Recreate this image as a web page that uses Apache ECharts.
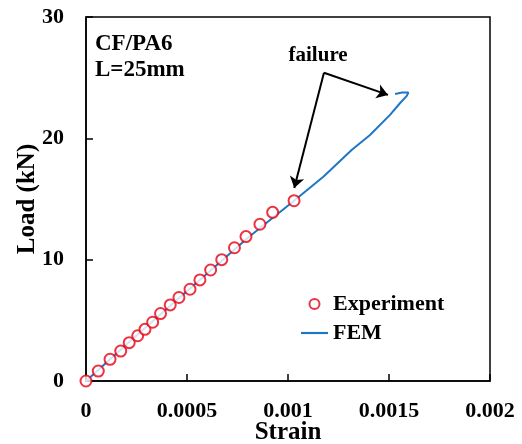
<!DOCTYPE html>
<html>
<head>
<meta charset="utf-8">
<script src="https://cdn.jsdelivr.net/npm/echarts@6/dist/echarts.min.js"></script>
<style>
  html, body { margin: 0; padding: 0; background: #fff; }
  #chart { width: 522px; height: 444px; }
</style>
</head>
<body>
<div id="chart"></div>
<script>
// Measured load–strain points (experiment)
const expStrain = [0, 0.0000609, 0.000119, 0.000172, 0.000214, 0.000256, 0.000292, 0.000330, 0.000369, 0.000417,
                   0.000460, 0.000515, 0.000564, 0.000617, 0.000672, 0.000735, 0.000792, 0.000861, 0.000924, 0.00103];
const expLoad   = [0, 0.82, 1.79, 2.47, 3.16, 3.73, 4.26, 4.84, 5.56, 6.27,
                   6.88, 7.56, 8.33, 9.15, 10.0, 10.98, 11.9, 12.92, 13.9, 14.86];

// Finite element prediction up to failure
const femStrain = [0, 0.0002, 0.0004, 0.0006, 0.0008, 0.00103, 0.001175, 0.001315, 0.001406, 0.001505,
                   0.001554, 0.001588, 0.001596, 0.001565, 0.00153];
const femLoad   = [0, 3.0, 5.95, 8.85, 11.78, 14.86, 16.84, 19.04, 20.28, 21.93,
                   22.89, 23.5, 23.77, 23.77, 23.66];

// Failure annotation: label anchor and arrow targets (strain, load)
const failureLabel = [0.001149, 26.8];
const arrowStart = [0.001178, 25.4];
const arrowTargets = [[0.001495, 23.58], [0.001031, 15.9]];

const xTicks = { min: 0, max: 0.002, step: 0.0005 };
const yTicks = { min: 0, max: 30, step: 10 };

const FONT = '"Liberation Serif", "Times New Roman", serif';

const chart = echarts.init(document.getElementById('chart'));
chart.setOption({
  backgroundColor: '#fff',
  animation: false,
  grid: { left: 86, right: 32, top: 17, bottom: 63, containLabel: false, outerBoundsMode: 'none',
          show: true, borderColor: '#000', borderWidth: 1.5 },
  xAxis: {
    type: 'value', min: xTicks.min, max: xTicks.max, interval: xTicks.step,
    name: 'Strain', nameLocation: 'middle', nameGap: 39, nameMoveOverlap: false,
    nameTextStyle: { fontFamily: FONT, fontWeight: 'bold', fontSize: 25, color: '#000' },
    axisLine: { show: true, lineStyle: { color: '#000', width: 1.5 } },
    axisTick: { show: true, inside: true, length: 7, lineStyle: { color: '#000', width: 1.5 } },
    axisLabel: { fontFamily: FONT, fontWeight: 'bold', fontSize: 22, color: '#000', margin: 19,
                 formatter: v => String(+v.toFixed(4)) },
    splitLine: { show: false }
  },
  yAxis: {
    type: 'value', min: yTicks.min, max: yTicks.max, interval: yTicks.step,
    name: 'Load (kN)', nameLocation: 'middle', nameGap: 46, nameMoveOverlap: false,
    nameTextStyle: { fontFamily: FONT, fontWeight: 'bold', fontSize: 25, color: '#000' },
    axisLine: { show: true, lineStyle: { color: '#000', width: 1.5 } },
    axisTick: { show: true, inside: true, length: 7, lineStyle: { color: '#000', width: 1.5 } },
    axisLabel: { fontFamily: FONT, fontWeight: 'bold', fontSize: 22, color: '#000', margin: 22 },
    splitLine: { show: false }
  },
  legend: {
    orient: 'vertical', left: 301, top: 293, padding: 0,
    itemWidth: 27, itemHeight: 10, itemGap: 7,
    textStyle: { fontFamily: FONT, fontWeight: 'bold', fontSize: 22, color: '#000' },
    data: [
      { name: 'Experiment' },
      { name: 'FEM', icon: 'path://M0,0 H30 V2.4 H0 Z' }
    ]
  },
  graphic: [
    { type: 'text', left: 95, top: 31,
      style: { text: 'CF/PA6\nL=25mm', font: 'bold 23px ' + FONT, fill: '#000', lineHeight: 26 } }
  ],
  series: [
    {
      name: 'Experiment', type: 'scatter', z: 3,
      symbol: 'emptyCircle', symbolSize: 11,
      itemStyle: { color: '#e60012', borderColor: '#e60012', borderWidth: 2.4 },
      data: expStrain.map((s, i) => [s, expLoad[i]])
    },
    {
      name: 'FEM', type: 'line', z: 2, showSymbol: false, symbol: 'none',
      lineStyle: { color: '#1f77c4', width: 2 },
      itemStyle: { color: '#1f77c4' },
      data: femStrain.map((s, i) => [s, femLoad[i]]),
      markLine: {
        silent: true, animation: false,
        symbol: ['none', 'arrow'], symbolSize: 11,
        lineStyle: { color: '#000', width: 2, type: 'solid' },
        itemStyle: { color: '#000' },
        label: { show: false },
        data: arrowTargets.map(t => [{ coord: arrowStart }, { coord: t }])
      },
      markPoint: {
        silent: true, symbol: 'circle', symbolSize: 1,
        itemStyle: { color: 'rgba(0,0,0,0)' },
        label: { show: true, formatter: 'failure', fontFamily: FONT, fontWeight: 'bold', fontSize: 21,
                 color: '#000', position: 'inside' },
        data: [{ coord: failureLabel }]
      }
    }
  ]
});
</script>
</body>
</html>
